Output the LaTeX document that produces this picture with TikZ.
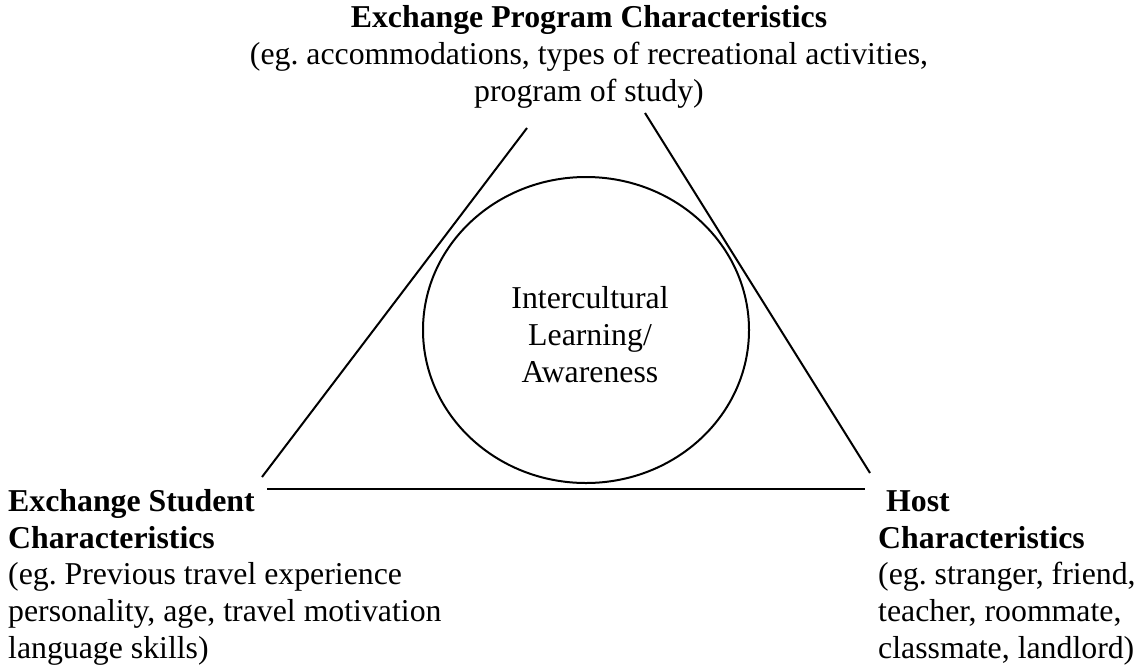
\documentclass[tikz,border=0pt]{standalone}
\usepackage{fontspec}
\setmainfont{Liberation Serif}
\usetikzlibrary{shapes.geometric}
\begin{document}
\frenchspacing
\begin{tikzpicture}[x=1pt,y=-1pt,
  txt/.style={inner sep=0pt, font=\fontsize{31.8}{36.6}\selectfont},
  edge/.style={line width=2pt, black},
  hub/.style={draw, ellipse, line width=2pt, inner sep=0pt,
    minimum width=326pt, minimum height=306pt}]
\useasboundingbox (0,0) rectangle (1139,667);

% three groups of characteristics (anchored at the last baseline)
\node[txt, align=center, anchor=base] (prog) at (589,101)
  {\textbf{Exchange Program Characteristics}\\
   (eg. accommodations, types of recreational activities,\\
   program of study)};
\node[txt, align=left, anchor=base west] (stud) at (8,658)
  {\textbf{Exchange Student}\\
   \textbf{Characteristics}\\
   (eg. Previous travel experience\\
   personality, age, travel motivation\\
   language skills)};
\node[txt, align=left, anchor=base west] (host) at (878,658)
  {\textbf{\ Host}\\
   \textbf{Characteristics}\\
   (eg. stranger, friend,\\
   teacher, roommate,\\
   classmate, landlord)};

% learning in the middle
\node[hub] (core) at (586,330) {};
\node[txt, align=center, anchor=base] (corelabel) at (590,382)
  {Intercultural\\Learning/\\Awareness};

% triangle sides
\coordinate (lt) at (527,128);
\coordinate (lb) at (262,477);
\coordinate (rt) at (645,113);
\coordinate (rb) at (870,473);
\coordinate (bl) at (267,489);
\coordinate (br) at (865,489);
\draw[edge] (lt) -- (lb);
\draw[edge] (rt) -- (rb);
\draw[edge] (bl) -- (br);
\end{tikzpicture}
\end{document}
